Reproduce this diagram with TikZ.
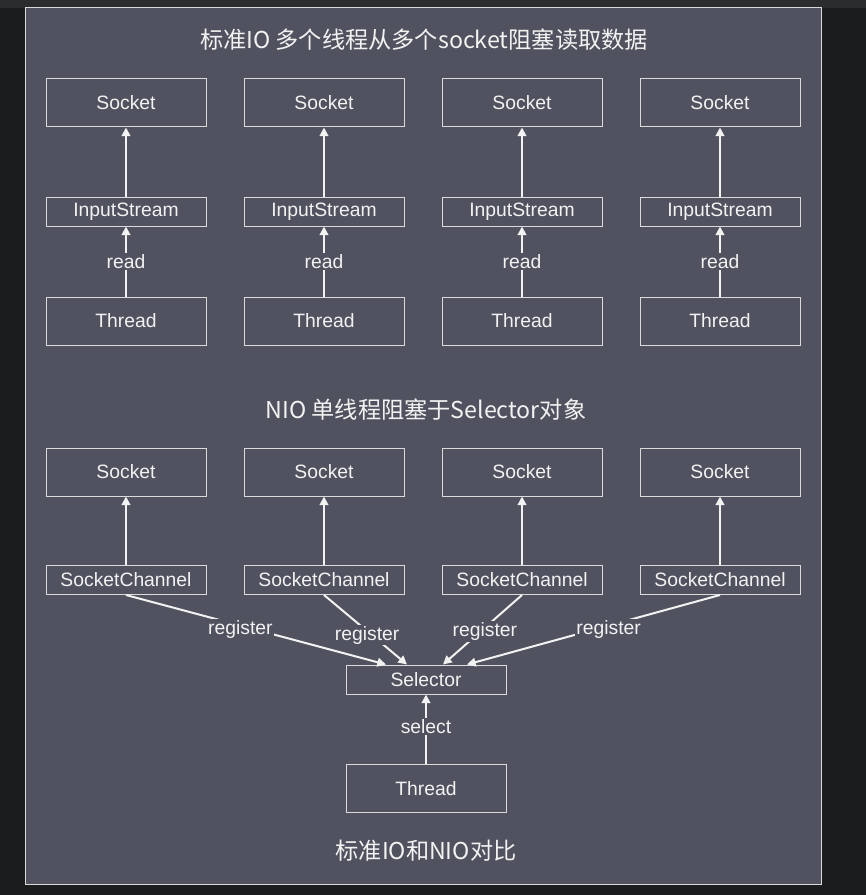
\documentclass[tikz,border=0pt]{standalone}
\usepackage{fontspec}
\setmainfont{Liberation Sans}
\newfontfamily\cjk{Noto Sans CJK SC}
\usetikzlibrary{arrows.meta,calc}
\definecolor{outer}{HTML}{1B1C1E}
\definecolor{strip}{HTML}{2B2C2E}
\definecolor{panel}{HTML}{50535F}
\definecolor{ink}{HTML}{F2F2F2}
\definecolor{frame}{HTML}{DADADA}
\begin{document}
\begin{tikzpicture}[x=.75pt,y=-.75pt,
box/.style={draw=frame,line width=.75pt,text=ink,minimum width=120pt,inner sep=0pt,font=\fontsize{14.5}{16}\selectfont},
tall/.style={box,minimum height=36pt},flat/.style={box,minimum height=21.75pt},
arr/.style={draw=ink,line width=1.5pt,-{Triangle[length=6.5pt,width=6.5pt]}},
lbl/.style={fill=panel,text=ink,inner sep=1pt,font=\fontsize{14.5}{16}\selectfont},
reg/.style={lbl,yshift=-3pt},
head/.style={text=ink,inner sep=0pt,font=\cjk\fontsize{17.4}{20}\selectfont}]
\fill[outer](0,0)rectangle(866,895);\fill[strip](0,0)rectangle(866,8);
\draw[draw=frame,fill=panel,line width=.75pt](25,8)rectangle(821,884);
% standard IO
\node[head](h1)at(424,40){标准IO 多个线程从多个socket阻塞读取数据};
\node[tall](s1)at(126,103){Socket};\node[flat](i1)at(126,211.5){InputStream};\node[tall](t1)at(126,321){Thread};
\node[tall](s2)at(324,103){Socket};\node[flat](i2)at(324,211.5){InputStream};\node[tall](t2)at(324,321){Thread};
\node[tall](s3)at(522,103){Socket};\node[flat](i3)at(522,211.5){InputStream};\node[tall](t3)at(522,321){Thread};
\node[tall](s4)at(720,103){Socket};\node[flat](i4)at(720,211.5){InputStream};\node[tall](t4)at(720,321){Thread};
\draw[arr](i1)--(s1);\draw[arr](t1)--node[lbl]{read}(i1);
\draw[arr](i2)--(s2);\draw[arr](t2)--node[lbl]{read}(i2);
\draw[arr](i3)--(s3);\draw[arr](t3)--node[lbl]{read}(i3);
\draw[arr](i4)--(s4);\draw[arr](t4)--node[lbl]{read}(i4);
% NIO
\node[head](h2)at(426,410){NIO 单线程阻塞于Selector对象};
\node[tall](n1)at(126,472){Socket};\node[flat](c1)at(126,580){SocketChannel};
\node[tall](n2)at(324,472){Socket};\node[flat](c2)at(324,580){SocketChannel};
\node[tall](n3)at(522,472){Socket};\node[flat](c3)at(522,580){SocketChannel};
\node[tall](n4)at(720,472){Socket};\node[flat](c4)at(720,580){SocketChannel};
\node[flat](sel)at(426,679.5){Selector};\node[tall](t5)at(426,788.5){Thread};
\draw[arr](c1)--(n1);\draw[arr](c2)--(n2);\draw[arr](c3)--(n3);\draw[arr](c4)--(n4);
\draw[arr](c1.south)--node[reg,pos=.44]{register}($(sel.north)+(-40,0)$);
\draw[arr](c2.south)--node[reg,pos=.52]{register}($(sel.north)+(-19,0)$);
\draw[arr](c3.south)--node[reg,pos=.47]{register}($(sel.north)+(17,0)$);
\draw[arr](c4.south)--node[reg,pos=.44]{register}($(sel.north)+(41,0)$);
\draw[arr](t5)--node[lbl,pos=.54]{select}(sel);
\node[head](h3)at(426,851){标准IO和NIO对比};
\end{tikzpicture}
\end{document}
